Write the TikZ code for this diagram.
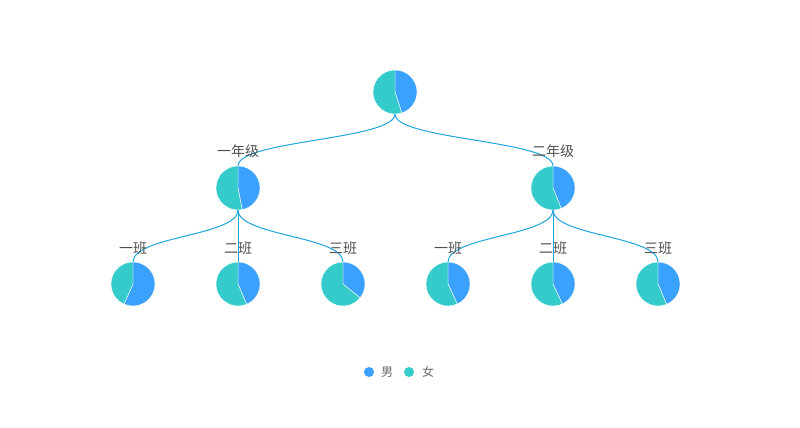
\documentclass[tikz,border=0pt]{standalone}
\usepackage{fontspec}
\newfontfamily\cjk{Noto Sans CJK SC}
\usetikzlibrary{calc}
\definecolor{pblue}{HTML}{3AA1FF}
\definecolor{pteal}{HTML}{36CBCB}
\definecolor{edgec}{HTML}{1FA5D8}
\definecolor{labc}{HTML}{505050}
\definecolor{legc}{HTML}{666666}
\newcommand\mypie[2]{%
  \fill[pblue,draw=white,line width=0.4pt] (#1.center) -- +(-90:22) arc[start angle=-90, end angle={-90+#2}, radius=22] -- cycle;
  \fill[pteal,draw=white,line width=0.4pt] (#1.center) -- +({-90+#2}:22) arc[start angle={-90+#2}, end angle=270, radius=22] -- cycle;
}
\newcommand\myedge[2]{%
  \path (#1.south) -- (#2.north) coordinate[pos=0.5] (m#1#2);
  \draw[edge] (#1.south) .. controls (#1.south |- m#1#2) and (#2.north |- m#1#2) .. (#2.north);
}
\begin{document}
\begin{tikzpicture}[x=1pt,y=-1pt,
  pienode/.style={circle,minimum size=44pt,inner sep=0pt,outer sep=0pt},
  edge/.style={draw=edgec,line width=1pt},
  lab/.style={font=\cjk\fontsize{14}{15}\selectfont,text=labc,inner sep=0pt},
  leg/.style={font=\cjk\fontsize{12}{13}\selectfont,text=legc,inner sep=0pt}]
\useasboundingbox[fill=white] (0,0) rectangle (800,428);
% nodes
\node[pienode] (r) at (395,92) {};
\node[pienode] (g) at (238,188) {};
\node[pienode] (h) at (553,188) {};
\node[pienode] (a) at (133,284) {};
\node[pienode] (b) at (238,284) {};
\node[pienode] (c) at (343,284) {};
\node[pienode] (d) at (448,284) {};
\node[pienode] (e) at (553,284) {};
\node[pienode] (f) at (658,284) {};
% connectors
\myedge{r}{g}
\myedge{r}{h}
\myedge{g}{a}
\myedge{g}{b}
\myedge{g}{c}
\myedge{h}{d}
\myedge{h}{e}
\myedge{h}{f}
% pies
\mypie{r}{162}
\mypie{g}{169}
\mypie{h}{158}
\mypie{a}{204}
\mypie{b}{157}
\mypie{c}{129}
\mypie{d}{155}
\mypie{e}{155}
\mypie{f}{157}
% labels
\node[lab] (lg) at (238,151.5) {一年级};
\node[lab] (lh) at (553,151.5) {二年级};
\node[lab] (la) at (133,248) {一班};
\node[lab] (lb) at (238,248) {二班};
\node[lab] (lc) at (343,248) {三班};
\node[lab] (ld) at (448,248) {一班};
\node[lab] (le) at (553,248) {二班};
\node[lab] (lf) at (658,248) {三班};
% legend
\fill[pblue] (369,372) circle[radius=5];
\node[leg] (lm) at (387,372) {男};
\fill[pteal] (409,372) circle[radius=5];
\node[leg] (lw) at (428,372) {女};
\end{tikzpicture}
\end{document}
